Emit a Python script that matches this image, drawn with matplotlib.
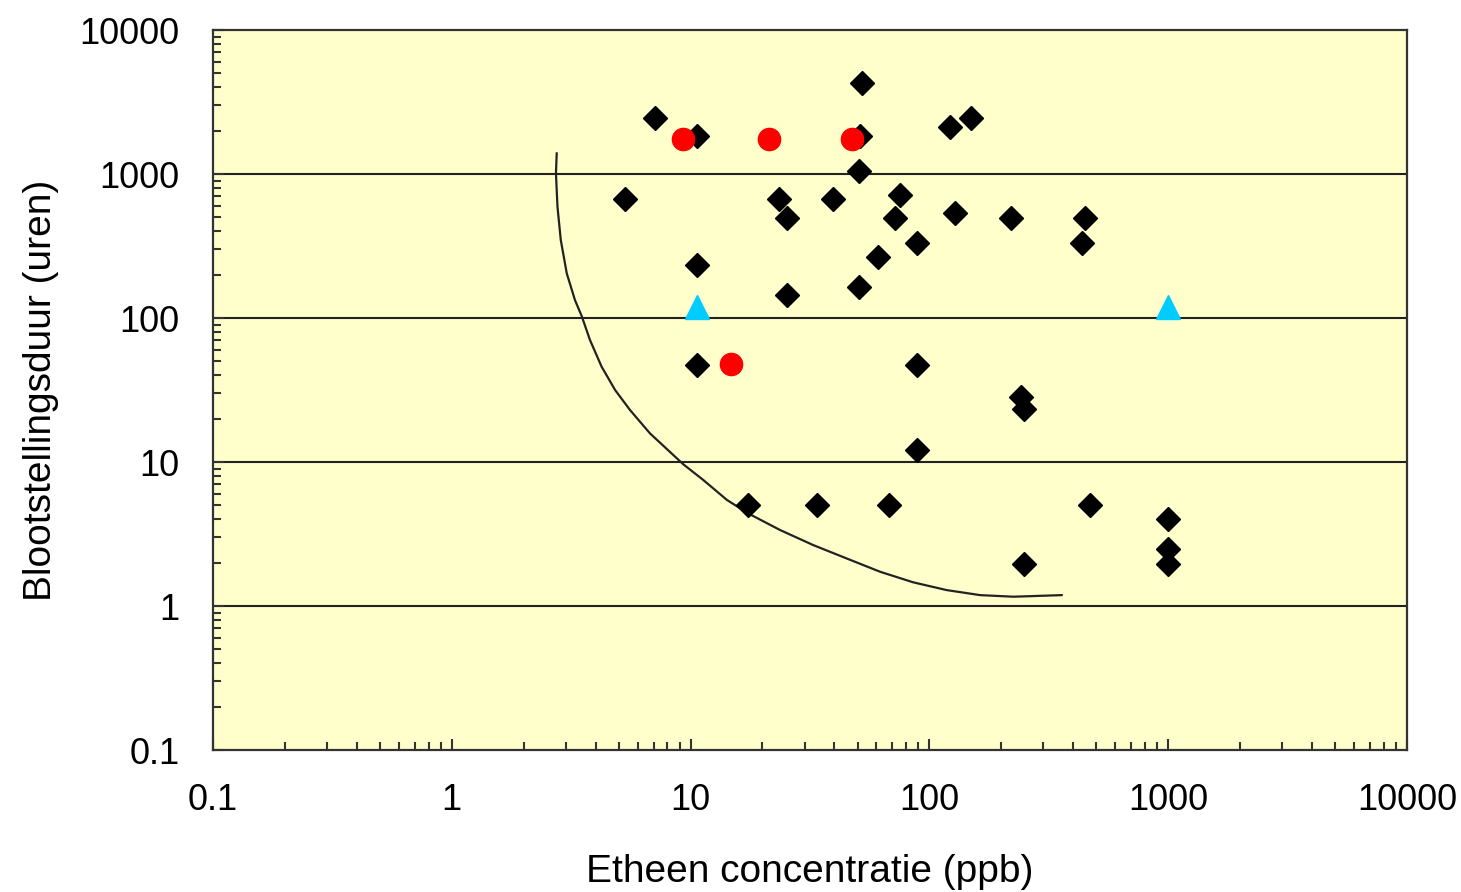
import numpy as np
import matplotlib
matplotlib.use("Agg")
import matplotlib.pyplot as plt
from matplotlib.ticker import LogLocator, FuncFormatter, NullFormatter

plt.rcParams['font.family'] = ['Liberation Sans', 'DejaVu Sans']

# black diamonds: concentration (ppb), duration (hours)
diamond_x = [7.1, 10.6, 52, 51, 50.5, 122, 150,
             5.3, 23.4, 25.3, 39.6, 75, 72, 128, 219, 448, 437, 88.5, 61, 10.6,
             25.3, 50.5, 10.6, 88.5, 243, 249, 88.5,
             17.4, 33.9, 67.7, 470, 1000, 1000, 1000, 249]
diamond_y = [2440, 1850, 4300, 1850, 1050, 2130, 2440,
             670, 670, 495, 670, 710, 495, 540, 495, 495, 333, 333, 267, 233,
             144, 164, 47.5, 47.5, 28.4, 23.2, 12.1,
             5.0, 5.0, 5.0, 5.0, 4.0, 2.48, 1.97, 1.97]

# red circles
circle_x = [9.3, 21.3, 47.5, 14.7]
circle_y = [1740, 1740, 1740, 48.3]

# cyan triangles
triangle_x = [10.6, 1000]
triangle_y = [120, 120]

# hand-drawn boundary curve
curve_x = [2.75, 2.73, 2.77, 2.86, 3.03, 3.28, 3.50, 3.79, 4.24, 4.83, 5.57,
           6.76, 9.32, 11.3, 14.2, 17.4, 23.7, 32.6, 45.0, 62.1, 85.6, 118,
           163, 225, 358]
curve_y = [1390, 1010, 593, 348, 204, 133, 103, 70.3, 45.9, 31.6, 23.0,
           15.8, 9.64, 7.50, 5.45, 4.40, 3.37, 2.65, 2.14, 1.73, 1.46, 1.29,
           1.19, 1.16, 1.19]

fig = plt.figure(figsize=(14.61, 8.92), dpi=100)
ax = fig.add_axes([213 / 1461, 1 - 750 / 892, (1407 - 213) / 1461, (750 - 30) / 892])
ax.set_facecolor('#ffffcc')

ax.set_xscale('log')
ax.set_yscale('log')
ax.set_xlim(0.1, 10000)
ax.set_ylim(0.1, 10000)

# horizontal grid lines at the decades
for v in [1, 10, 100, 1000]:
    ax.axhline(v, color='#222222', lw=1.5, zorder=1)

ax.plot(curve_x, curve_y, color='#222222', lw=1.6, zorder=2,
        solid_joinstyle='round')
ax.plot(diamond_x, diamond_y, 'D', color='black', ms=12, ls='none', zorder=3)
ax.plot(circle_x, circle_y, 'o', color='#ff0000', ms=16, ls='none', zorder=4)
ax.plot(triangle_x, triangle_y, '^', color='#00ccff', ms=17, ls='none', zorder=4)

fmt = FuncFormatter(lambda v, p: '%g' % v)
for axis in (ax.xaxis, ax.yaxis):
    axis.set_major_locator(LogLocator(base=10, numticks=10))
    axis.set_minor_locator(LogLocator(base=10, subs=np.arange(2, 10), numticks=10))
    axis.set_major_formatter(fmt)
    axis.set_minor_formatter(NullFormatter())

ax.tick_params(which='both', direction='in', top=False, right=False,
               color='#333333', width=1.5, labelsize=26)
ax.tick_params(which='major', length=8)
ax.tick_params(which='minor', length=6)
ax.tick_params(axis='x', which='major', pad=24)
ax.tick_params(axis='y', which='major', pad=24)

for s in ax.spines.values():
    s.set_color('#333333')
    s.set_linewidth(1.6)

ax.set_xlabel('Etheen concentratie (ppb)', fontsize=28, labelpad=26)
ax.set_ylabel('Blootstellingsduur (uren)', fontsize=28, labelpad=15)

fig.savefig('out.png', dpi=100, facecolor='white')
